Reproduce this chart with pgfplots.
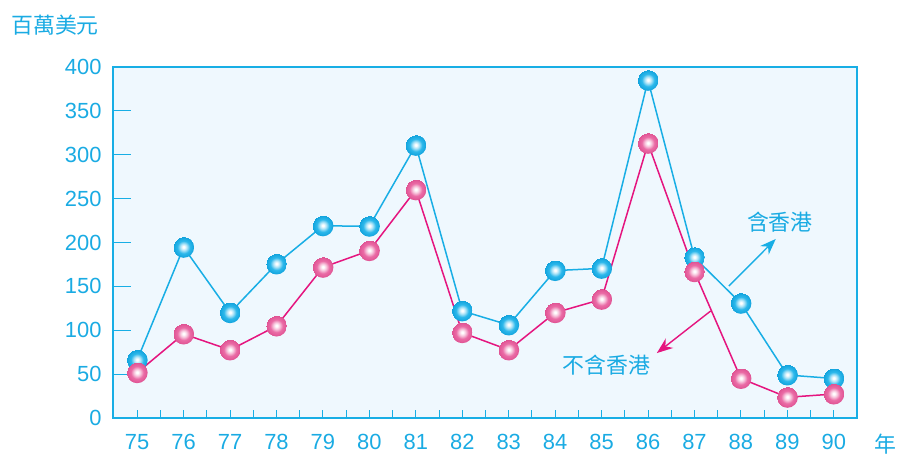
\documentclass[border=0pt]{standalone}
\usepackage{fontspec}
\setmainfont{Liberation Sans}
\newfontfamily\cjk{Noto Sans CJK TC}
\usepackage{pgfplots}
\pgfplotsset{compat=1.18}
\usetikzlibrary{arrows.meta}
\definecolor{hk}{HTML}{18AEE5}
\definecolor{nohk}{HTML}{E5157F}
\definecolor{txt}{HTML}{1AABE3}
\definecolor{bg}{HTML}{EFF8FE}
\definecolor{hkmid}{HTML}{2DB8EB}
\definecolor{hkedge}{HTML}{10A2DC}
\definecolor{nohkmid}{HTML}{EA6CA6}
\definecolor{nohkedge}{HTML}{DF5192}

% shaded balls for the markers
\pgfdeclareradialshading{hkshade}{\pgfpoint{0bp}{1bp}}{color(0bp)=(white); color(2bp)=(white);
 color(8bp)=(hkmid!40!white); color(15bp)=(hkmid); color(25bp)=(hkedge)}
\pgfdeclareradialshading{nohkshade}{\pgfpoint{0bp}{1bp}}{color(0bp)=(white); color(2bp)=(white);
 color(8bp)=(nohkmid!40!white); color(15bp)=(nohkmid); color(25bp)=(nohkedge)}
\pgfdeclareplotmark{hkball}{\pgfpathcircle{\pgfpointorigin}{\pgfplotmarksize}\pgfshadepath{hkshade}{0}\pgfusepath{}}
\pgfdeclareplotmark{nohkball}{\pgfpathcircle{\pgfpointorigin}{\pgfplotmarksize}\pgfshadepath{nohkshade}{0}\pgfusepath{}}

\begin{document}
\begin{tikzpicture}[x=1bp,y=1bp]
\path[use as bounding box] (0,0) rectangle (899,455);
\begin{axis}[
 at={(113bp,37bp)},anchor=south west,
 width=744bp,height=351bp,scale only axis,
 xmin=74.48,xmax=90.5,ymin=0,ymax=400,
 axis background/.style={fill=bg},
 axis line style={hk,line width=1.3bp},
 tick align=inside,ytick pos=left,xtick pos=bottom,
 major tick length=18bp,
 ytick={0,50,...,400},
 ytick style={hk,line width=1bp},
 xtick={75.5,76.5,...,89.5},
 xticklabels={},
 xtick style={hk,line width=1bp,/pgfplots/major tick length=8bp},
 extra x ticks={75,...,90},
 extra x tick style={/pgfplots/major tick length=0pt},
 /pgf/number format/assume math mode=true,
 tick label style={font=\fontsize{22}{24}\selectfont,text=txt},
 yticklabel style={xshift=-8bp},
 xticklabel style={yshift=-13bp},
 clip=false,
]
\addplot[hk,line width=1.5bp,mark=hkball,mark size=10.5bp] coordinates {
 (75,66) (76,194.5) (77,120) (78,175.5) (79,219) (80,218.5) (81,310.7) (82,122)
 (83,106) (84,168) (85,170.5) (86,384.8) (87,183) (88,130.7) (89,49) (90,45)};
\addplot[nohk,line width=1.5bp,mark=nohkball,mark size=10.5bp] coordinates {
 (75,51.6) (76,95.7) (77,77.5) (78,104.8) (79,171.7) (80,190.7) (81,260) (82,97.2)
 (83,77.5) (84,120) (85,135.2) (86,313) (87,166.7) (88,45) (89,23.6) (90,27.3)};
\draw[hk,line width=1.4bp,-{Stealth[length=16bp,width=12bp]}] (axis cs:87.74,150.4) -- (axis cs:88.75,204);
\draw[nohk,line width=1.4bp,-{Stealth[length=16bp,width=12bp]}] (axis cs:87.35,122) -- (axis cs:86.19,74);
\node[text=txt,font=\cjk\fontsize{22}{24}\selectfont] at (axis cs:88.84,223) {含香港};
\node[text=txt,font=\cjk\fontsize{22}{24}\selectfont] at (axis cs:85.11,60) {不含香港};
\end{axis}
\node[text=txt,font=\cjk\fontsize{22}{24}\selectfont] at (55,430) {百萬美元};
\node[text=txt,font=\cjk\fontsize{22}{24}\selectfont] at (885,11) {年};
\end{tikzpicture}
\end{document}
